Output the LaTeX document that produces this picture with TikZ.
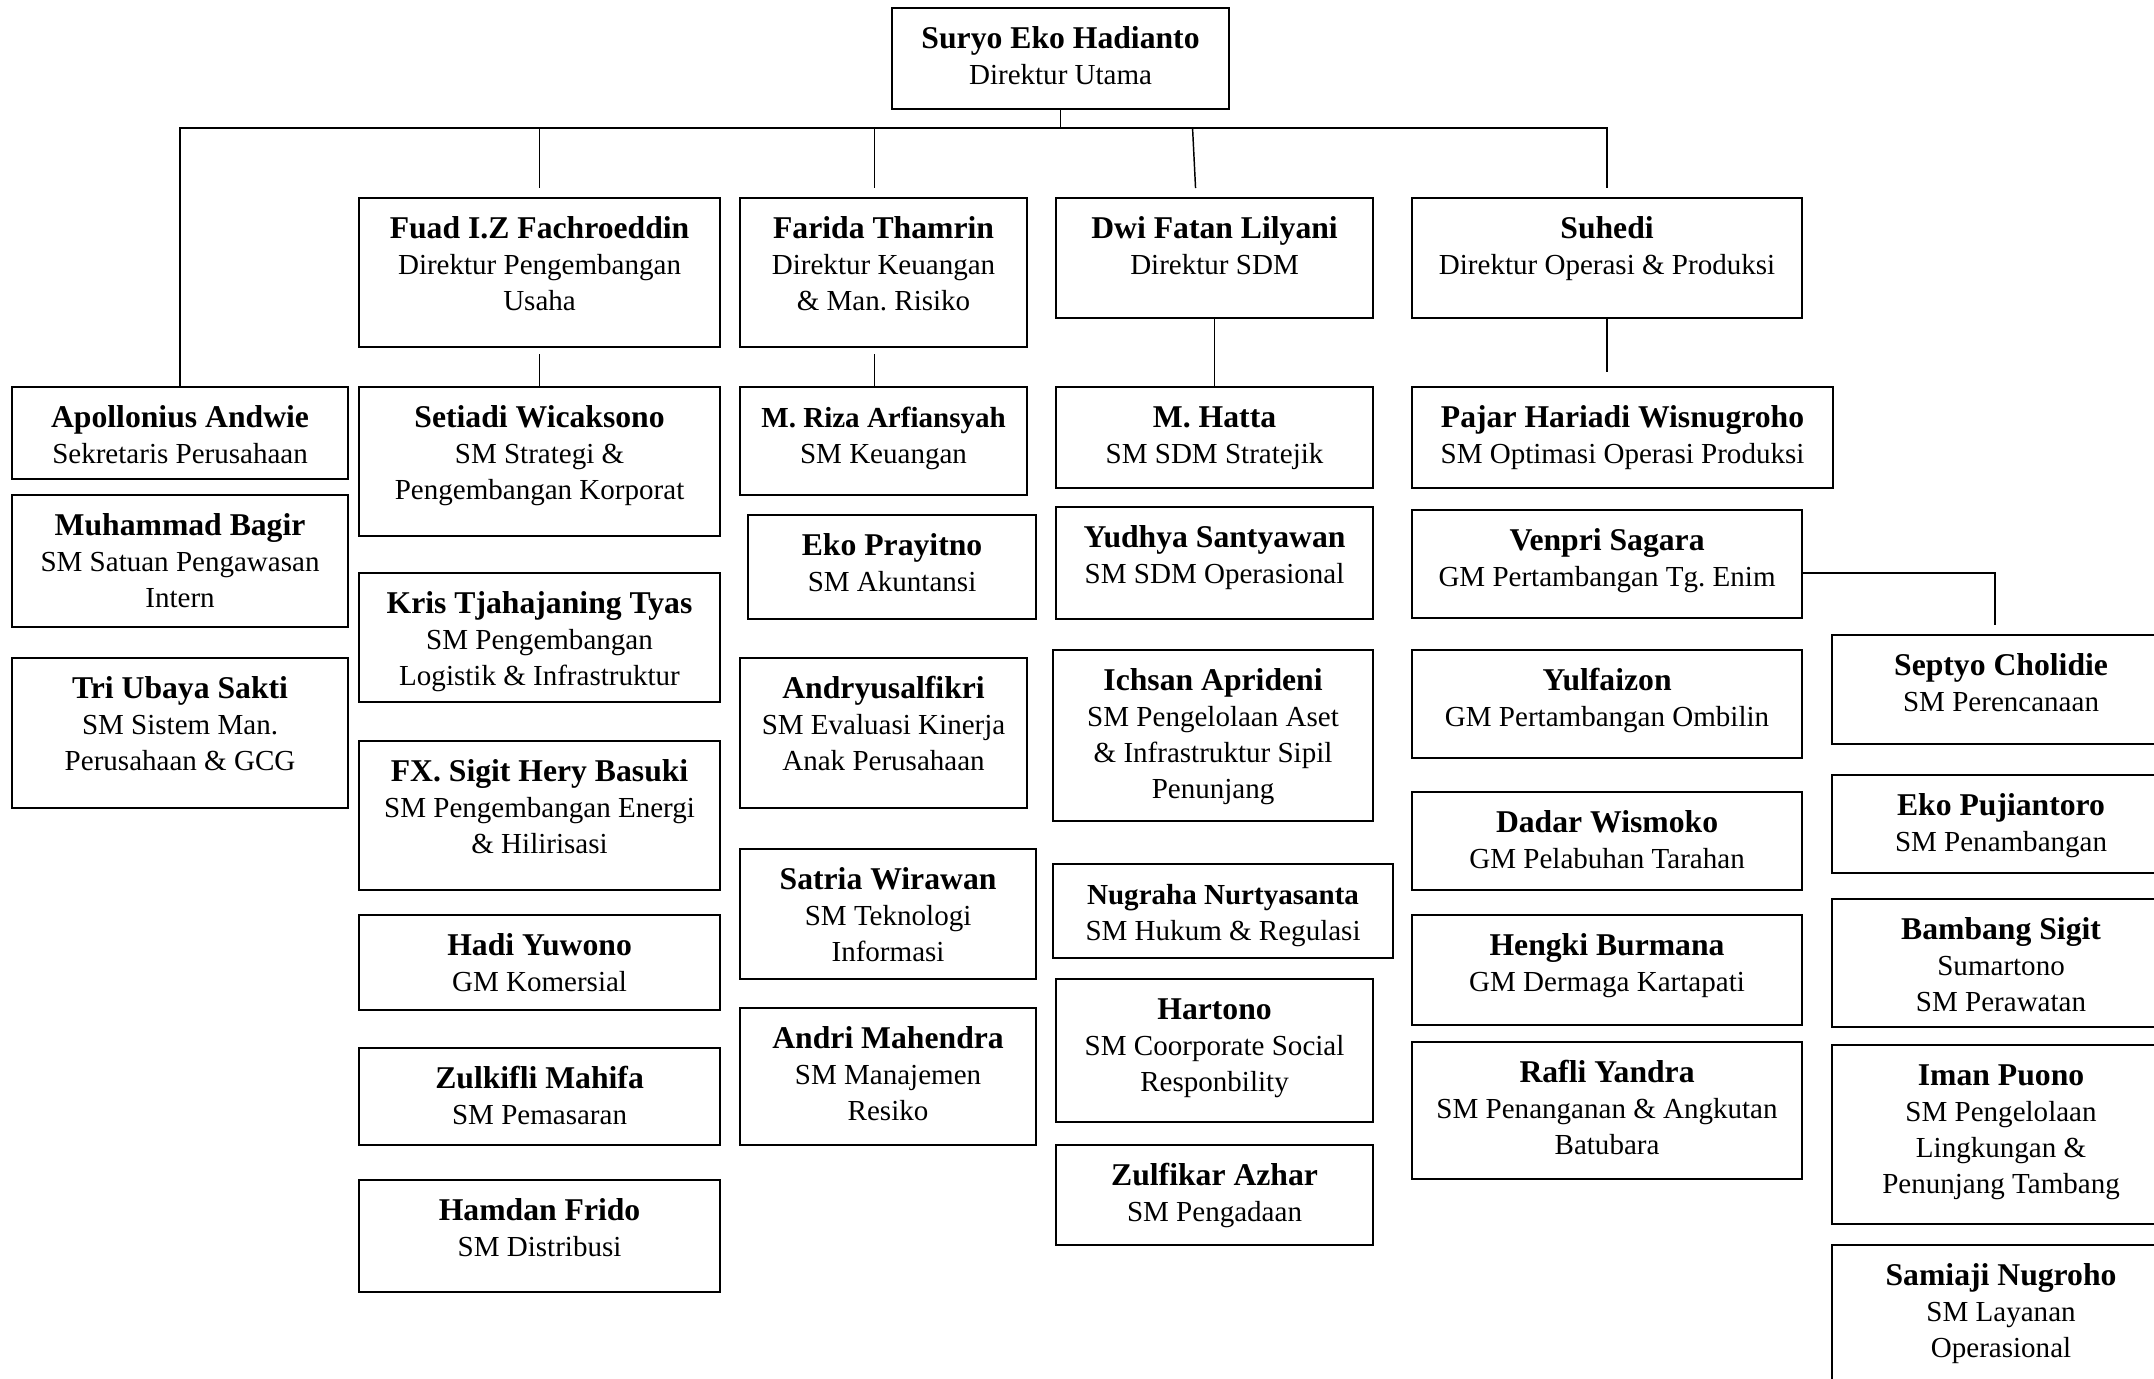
\documentclass[tikz,border=0pt]{standalone}
\usepackage{fontspec}
\setmainfont{Liberation Serif}
\usepackage{tikz}
\usetikzlibrary{positioning,calc}
\frenchspacing

\newcommand{\pu}{0.3788pt}
\newcommand{\pname}[2][12]{{\fontsize{#1}{13.6}\selectfont\bfseries\rule{0pt}{8.5pt}#2}}
\tikzset{
  orgbox/.style={rectangle,draw,line width=0.8pt,inner sep=0pt,anchor=north west},
  orgtext/.style={anchor=north,align=center,inner sep=0pt,font=\fontsize{11}{13.6}\selectfont},
  link/.style={line width=0.55pt}
}
% box: name, left, top, right, bottom, text
\newcommand{\orgunit}[6]{%
  \node[orgbox,minimum width={(#4-#2)*\pu},minimum height={(#5-#3)*\pu}] (#1) at (#2,#3) {};
  \node[orgtext] (#1-t) at ($(#1.north)+(0,18.5)$) {#6};
}

\begin{document}
\begin{tikzpicture}[x=0.3788pt,y=-0.3788pt]
\fill[white] (0,0) rectangle (2154,1378);
\useasboundingbox (0,0) rectangle (2154,1378);
\clip (0,0) rectangle (2154,1378);

% direksi
\orgunit{utama}{891}{7}{1228}{108}{\pname{Suryo Eko Hadianto}\\Direktur Utama}
\orgunit{fuad}{358}{197}{719}{346}{\pname{Fuad I.Z Fachroeddin}\\Direktur Pengembangan\\Usaha}
\orgunit{farida}{739}{197}{1026}{346}{\pname{Farida Thamrin}\\Direktur Keuangan\\\& Man. Risiko}
\orgunit{dwi}{1055}{197}{1372}{317}{\pname{Dwi Fatan Lilyani}\\Direktur SDM}
\orgunit{suhedi}{1411}{197}{1801}{317}{\pname{Suhedi}\\Direktur Operasi \& Produksi}

% bawah direktur utama
\orgunit{apollonius}{11}{386}{347}{478}{\pname{Apollonius Andwie}\\Sekretaris Perusahaan}
\orgunit{bagir}{11}{494}{347}{626}{\pname{Muhammad Bagir}\\SM Satuan Pengawasan\\Intern}
\orgunit{tri}{11}{657}{347}{807}{\pname{Tri Ubaya Sakti}\\SM Sistem Man.\\Perusahaan \& GCG}

% pengembangan usaha
\orgunit{setiadi}{358}{386}{719}{535}{\pname{Setiadi Wicaksono}\\SM Strategi \&\\Pengembangan Korporat}
\orgunit{kris}{358}{572}{719}{701}{\pname{Kris Tjahajaning Tyas}\\SM Pengembangan\\Logistik \& Infrastruktur}
\orgunit{fx}{358}{740}{719}{889}{\pname{FX. Sigit Hery Basuki}\\SM Pengembangan Energi\\\& Hilirisasi}
\orgunit{hadi}{358}{914}{719}{1009}{\pname{Hadi Yuwono}\\GM Komersial}
\orgunit{zulkifli}{358}{1047}{719}{1144}{\pname{Zulkifli Mahifa}\\SM Pemasaran}
\orgunit{hamdan}{358}{1179}{719}{1291}{\pname{Hamdan Frido}\\SM Distribusi}

% keuangan
\orgunit{riza}{739}{386}{1026}{494}{\pname[11]{M. Riza Arfiansyah}\\SM Keuangan}
\orgunit{ekop}{747}{514}{1035}{618}{\pname{Eko Prayitno}\\SM Akuntansi}
\orgunit{andryu}{739}{657}{1026}{807}{\pname{Andryusalfikri}\\SM Evaluasi Kinerja\\Anak Perusahaan}
\orgunit{satria}{739}{848}{1035}{978}{\pname{Satria Wirawan}\\SM Teknologi\\Informasi}
\orgunit{andri}{739}{1007}{1035}{1144}{\pname{Andri Mahendra}\\SM Manajemen\\Resiko}

% sdm
\orgunit{hatta}{1055}{386}{1372}{487}{\pname{M. Hatta}\\SM SDM Stratejik}
\orgunit{yudhya}{1055}{506}{1372}{618}{\pname{Yudhya Santyawan}\\SM SDM Operasional}
\orgunit{ichsan}{1052}{649}{1372}{820}{\pname{Ichsan Aprideni}\\SM Pengelolaan Aset\\\& Infrastruktur Sipil\\Penunjang}
\orgunit{nugraha}{1052}{863}{1392}{957}{\pname[11]{Nugraha Nurtyasanta}\\SM Hukum \& Regulasi}
\orgunit{hartono}{1055}{978}{1372}{1121}{\pname{Hartono}\\SM Coorporate Social\\Responbility}
\orgunit{zulfikar}{1055}{1144}{1372}{1244}{\pname{Zulfikar Azhar}\\SM Pengadaan}

% operasi & produksi
\orgunit{pajar}{1411}{386}{1832}{487}{\pname{Pajar Hariadi Wisnugroho}\\SM Optimasi Operasi Produksi}
\orgunit{venpri}{1411}{509}{1801}{617}{\pname{Venpri Sagara}\\GM Pertambangan Tg. Enim}
\orgunit{yulfaizon}{1411}{649}{1801}{757}{\pname{Yulfaizon}\\GM Pertambangan Ombilin}
\orgunit{dadar}{1411}{791}{1801}{889}{\pname{Dadar Wismoko}\\GM Pelabuhan Tarahan}
\orgunit{hengki}{1411}{914}{1801}{1024}{\pname{Hengki Burmana}\\GM Dermaga Kartapati}
\orgunit{rafli}{1411}{1041}{1801}{1178}{\pname{Rafli Yandra}\\SM Penanganan \& Angkutan\\Batubara}

% tg. enim
\orgunit{septyo}{1831}{634}{2169}{743}{\pname{Septyo Cholidie}\\SM Perencanaan}
\orgunit{ekopuji}{1831}{774}{2169}{872}{\pname{Eko Pujiantoro}\\SM Penambangan}
\orgunit{bambang}{1831}{898}{2169}{1026}{\pname{Bambang Sigit}\\Sumartono\\SM Perawatan}
\orgunit{iman}{1831}{1044}{2169}{1223}{\pname{Iman Puono}\\SM Pengelolaan\\Lingkungan \&\\Penunjang Tambang}
\orgunit{samiaji}{1831}{1244}{2169}{1400}{\pname{Samiaji Nugroho}\\SM Layanan\\Operasional}

% garis
\coordinate (bus) at (0,128);
\draw[link] (utama.south) -- (utama.south |- bus);
\draw[link] (apollonius.north) -- (apollonius.north |- bus) -- (suhedi.north |- bus) -- ($(suhedi.north)+(0,-9)$);
\draw[link] (fuad.north |- bus) -- ($(fuad.north)+(0,-9)$);
\draw[link] ($(farida.north |- bus)+(-9,0)$) -- ($(farida.north)+(-9,-9)$);
\draw[link] ($(dwi.north |- bus)+(-22,0)$) -- ($(dwi.north)+(-19,-9)$);

\draw[link] ($(fuad.south)+(0,6)$) -- (setiadi.north);
\draw[link] ($(farida.south)+(-9,6)$) -- ($(riza.north)+(-9,0)$);
\draw[link] (dwi.south) -- (hatta.north);
\draw[link] (suhedi.south) -- ($(suhedi.south |- pajar.north)+(0,-14)$);
\draw[link] ($(venpri.east)+(0,9)$) -| ($(septyo.north)+(-6,-9)$);

\end{tikzpicture}
\end{document}
